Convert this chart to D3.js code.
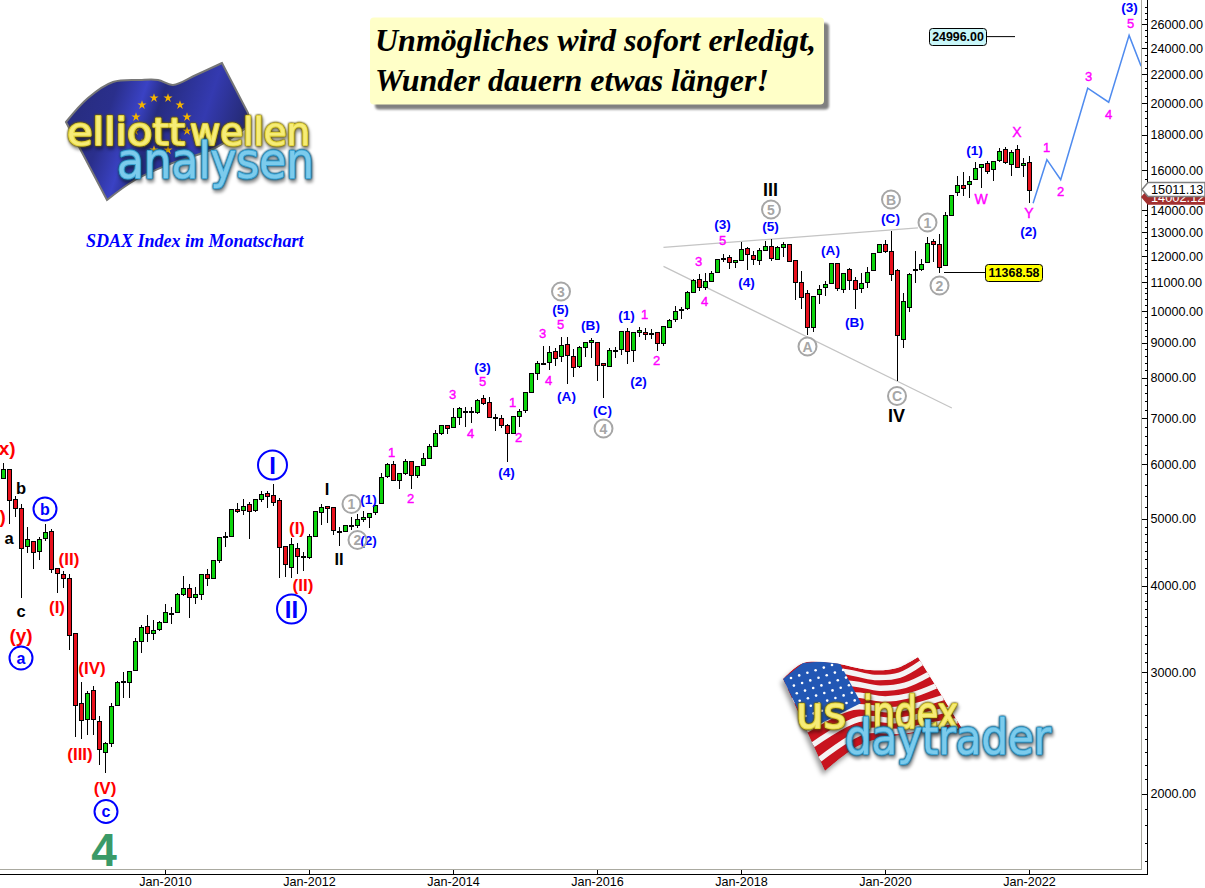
<!DOCTYPE html>
<html>
<head>
<meta charset="utf-8">
<title>SDAX Index im Monatschart</title>
<script src="https://cdnjs.cloudflare.com/ajax/libs/d3/7.8.5/d3.min.js"></script>
<style>
  html, body { margin: 0; padding: 0; background: #fff; overflow: hidden; }
  text { font-family: "Liberation Sans", Arial, sans-serif; }
  .axis text { font-size: 12.6px; fill: #000; }
  .axis line, .axis path { stroke: #000; shape-rendering: crispEdges; }
  .wick { stroke: #000; shape-rendering: crispEdges; }
  .body { stroke: #000; shape-rendering: crispEdges; }
</style>
</head>
<body>
<div class="chart"></div>
<script>
// monthly candles, first one is Oct-2007, months counted from Jan-2010
var firstMonth = -27;

var opens = [
  5737,5912,5349,5191,4567,4645,4497,4696,4808,4248,
  4167,4110,3421,2709,2568,2828,2550,2300,2371,2691,
  2905,2905,3024,3333,3500,3421,3467,3550,3645,3669,
  3896,3975,3858,3896,4155,4110,4364,4711,4727,5174,
  5156,5254,5156,5349,5458,5421,5331,4572,4262,4542,
  4408,4408,4727,5122,5225,5208,4792,4808,4887,4903,
  5003,5037,5122,5278,5775,6010,5699,5833,6071,5794,
  5990,6132,6384,6665,6848,6800,7030,7150,7150,7150,
  7490,7394,7008,7008,6848,6665,7053,7197,7644,8130,
  8390,8447,8762,8615,8965,8615,8334,8877,9028,9028,
  8420,8334,8762,8820,9365,8790,9334,9335,9272,9335,
  9000,9490,9749,10046,10113,10654,11115,10847,11066,11403,
  11908,11988,11790,11868,12354,12067,11868,12270,12438,11908,
  12395,12480,11868,11030,10630,9490,10595,10847,10960,11748,
  10775,11517,11102,10810,11030,11478,12190,12520,12230,11478,
  9120,10147,11478,11517,11790,12645,12520,11670,13790,14845,
  15240,15290,15500,16185,16350,16075,16565,17130,16300,17130,
  16240,16455
];
var highs = [
  6031,5912,5397,5268,4872,4660,4711,4924,4845,4248,
  4217,4167,3421,2908,2819,2870,2596,2384,2709,2915,
  3007,3017,3365,3512,3637,3577,3561,3773,3731,3909,
  4136,4032,3998,4167,4235,4364,4722,4797,5174,5278,
  5349,5301,5355,5494,5494,5631,5367,4572,4696,4618,
  4487,4762,5139,5260,5231,5219,4872,4909,5037,5094,
  5145,5105,5242,5833,6030,6071,5833,6118,6071,5970,
  6235,6426,6732,6848,6848,7245,7270,7270,7270,7465,
  7565,7514,7100,7077,6863,7053,7221,7644,8130,8475,
  8906,8906,8850,9180,9180,8820,8906,9028,9150,9028,
  8420,8850,8877,9375,9460,9334,9492,9460,9429,9335,
  9532,9749,10193,10147,10690,11140,11340,11365,11428,11922,
  12120,12080,11882,12603,12395,12245,12354,12645,12730,12438,
  12603,12520,11882,11428,10739,10540,10925,11066,11748,11748,
  11365,11555,11215,11365,11580,12150,12535,12673,13070,11517,
  10630,11365,12230,11908,12815,12730,12955,13950,14755,15690,
  15900,15690,16455,16350,16510,16510,17260,17320,17110,17420,
  16680,16810
];
var lows = [
  5737,4926,5048,3853,4477,4235,4369,4660,4189,3918,
  3983,3236,2424,2407,2440,2440,2207,2150,2344,2691,
  2757,2757,3024,3207,3325,3346,3452,3550,3530,3657,
  3875,3601,3777,3823,4007,4098,4330,4567,4722,5105,
  5066,4690,5122,5301,5197,5237,4110,4132,4110,4164,
  4212,4379,4727,4900,4942,4750,4582,4792,4829,4856,
  4954,4866,5077,5278,5737,5699,5542,5794,5542,5737,
  5990,6132,6384,6620,6642,6800,6848,6800,6884,7100,
  7320,7030,6711,6778,6064,6665,6800,7125,7644,7945,
  8390,8215,8325,8438,7843,8050,8279,8585,8557,7920,
  7490,8307,8557,8643,8380,8438,9180,9100,9120,8772,
  8900,9460,9640,9749,10035,10630,10690,10727,11066,11365,
  11775,11517,11568,11815,11476,11660,11660,12270,11815,11855,
  11988,11828,10375,10080,9235,9325,10260,10540,10960,10690,
  10630,10751,10080,10630,10810,11440,12190,12150,11053,7920,
  8840,9967,10995,11440,11748,11790,11365,11620,13790,14680,
  14680,14610,15500,15090,15810,15465,16455,16330,15725,16130,
  15655,14340
];
var closes = [
  5912,5325,5191,4542,4680,4477,4680,4792,4235,4180,
  4110,3398,2691,2559,2800,2568,2323,2371,2682,2905,
  2912,3014,3333,3489,3421,3455,3550,3669,3657,3896,
  3975,3858,3896,4155,4110,4364,4711,4727,5174,5139,
  5225,5139,5349,5439,5403,5295,4557,4306,4602,4423,
  4423,4727,5139,5208,5191,4824,4808,4898,4903,5003,
  5037,5105,5242,5756,6010,5699,5833,6071,5794,5970,
  6132,6384,6665,6848,6778,7030,7245,7173,7173,7441,
  7370,7030,7030,6848,6665,7053,7173,7644,8130,8420,
  8420,8732,8557,8935,8643,8307,8877,9028,9090,8362,
  8362,8790,8790,9365,8762,9334,9397,9272,9303,9000,
  9500,9716,10012,10080,10666,11090,10847,11066,11365,11908,
  11948,11790,11868,12312,12107,11908,12270,12438,11948,12395,
  12520,11828,11030,10490,9490,10527,10775,10925,11748,10810,
  11365,11102,10775,10995,11403,12150,12480,12217,11327,9245,
  10350,11327,11517,11712,12562,12480,11593,13760,14740,15195,
  15090,15445,16130,16300,15970,16510,17070,16455,17015,16185,
  16400,14990
];

var forecastMonths = [144.6, 146.9, 149.2, 153.7, 157.2, 160.6, 162.6];
var forecastValues = [14340, 16585, 15515, 21046, 20085, 25100, 22650];

var upperLineMonths = [83, 125.4];
var upperLineValues = [12384, 13210];
var lowerLineMonths = [83, 131.06];
var lowerLineValues = [11622, 7247];

var timeTickMonths = [0, 24, 48, 72, 96, 120, 144];
var timeTickLabels = ["Jan-2010", "Jan-2012", "Jan-2014", "Jan-2016", "Jan-2018", "Jan-2020", "Jan-2022"];
var priceTicks = [2000, 3000, 4000, 5000, 6000, 7000, 8000, 9000, 10000, 11000, 12000, 13000, 14000, 16000, 18000, 20000, 22000, 24000, 26000];

var targetPrice = 24996;
var supportPrice = 11368.58;
var supportMonth = 129.83;
var lastPrice = "15011.13";
var otherPrice = "14002.12";

var svg = d3.select(".chart")
  .append("svg")
  .attr("width", 1205)
  .attr("height", 888)
  .style("display", "block");

var xScale = d3.scaleLinear().domain([0, 144]).range([165.5, 1029.5]);
var yScale = d3.scaleLog().domain([2000, 26000]).range([794.3, 24.8]);

var defs = svg.append("defs");
defs.append("clipPath").attr("id", "plotClip")
  .append("rect").attr("x", 0).attr("y", 0).attr("width", 1141).attr("height", 869);
var blur = defs.append("filter").attr("id", "soft").attr("x", "-20%").attr("y", "-20%").attr("width", "140%").attr("height", "140%");
blur.append("feGaussianBlur").attr("stdDeviation", 2.5);
var blurSmall = defs.append("filter").attr("id", "softer").attr("x", "-10%").attr("y", "-20%").attr("width", "120%").attr("height", "140%");
blurSmall.append("feGaussianBlur").attr("stdDeviation", 1);

var euGrad = defs.append("linearGradient").attr("id", "euGrad").attr("x1", 0).attr("y1", 0).attr("x2", 1).attr("y2", 0.25);
euGrad.append("stop").attr("offset", "0%").attr("stop-color", "#262b78");
euGrad.append("stop").attr("offset", "30%").attr("stop-color", "#2a2f8c");
euGrad.append("stop").attr("offset", "45%").attr("stop-color", "#3a42c4");
euGrad.append("stop").attr("offset", "55%").attr("stop-color", "#262c80");
euGrad.append("stop").attr("offset", "80%").attr("stop-color", "#343ab0");
euGrad.append("stop").attr("offset", "100%").attr("stop-color", "#262b78");

// ---- logos -----------------------------------------------------------------
var smooth = d3.line().curve(d3.curveCatmullRom.alpha(0.5));

// logo lettering: one text, pale core, coloured tube, dark rim and soft shadow by filter
function tubeText(g, txt, x, y, size, len, colors) {
  g.append("text").attr("x", x).attr("y", y).attr("font-size", size)
    .attr("textLength", len).attr("lengthAdjust", "spacingAndGlyphs")
    .style("font-family", "'DejaVu Sans'")
    .style("paint-order", "stroke")
    .style("filter", "drop-shadow(0 0 0.8px " + colors[0] + ") drop-shadow(0 0 0.5px " + colors[0] + ") drop-shadow(1px 3px 1.5px rgba(0,0,0,0.4))")
    .attr("fill", colors[2])
    .attr("stroke", colors[1]).attr("stroke-width", 2.2)
    .attr("stroke-linejoin", "round")
    .text(txt);
}

var yellowTube = ["#6e5f00", "#e2d33c", "#f6ec78"];
var blueTube = ["#155a7c", "#3ea6d6", "#7ccbec"];

// EU flag logo
var euLogo = svg.append("g").attr("class", "eu-logo");
var euTop = [[66,122],[88,98],[113,82],[140,80],[158,80],[173,85],[196,75],[222,63]];
var euBottom = [[250,125],[215,148],[170,164],[135,180],[107,200]];
var euShape = smooth(euTop) + "L248,113" + smooth(euBottom).replace("M", "L") + "Z";
euLogo.append("path").attr("d", euShape).attr("fill", "url(#euGrad)").attr("stroke", "#777").attr("stroke-width", 2);
var euStars = [[142,105],[154,98],[168,98],[180,105],[187,117],[187,131],[180,143],[136,117],[135,131],[142,143],[154,150],[168,150]];
euLogo.selectAll(".star").data(euStars).enter().append("path")
  .attr("class", "star")
  .attr("d", d3.symbol().type(d3.symbolStar).size(26))
  .attr("transform", function(d) { return "translate(" + d[0] + "," + d[1] + ")"; })
  .attr("fill", "#f4b400");
tubeText(euLogo, "elliott", 67, 145, 37, 118, yellowTube);
tubeText(euLogo, "wellen", 190, 145, 37, 120, yellowTube);
tubeText(euLogo, "analysen", 117, 178, 50, 197, blueTube);

// US flag logo
var usLogo = svg.append("g").attr("class", "us-logo");
var usTop = [[783,679],[803,663],[833,663],[870,670],[897,668],[918,657]];
var usBottom = [[963,730],[900,735],[860,745],[825,771]];
var usShape = smooth(usTop) + smooth(usBottom).replace("M", "L") + "Z";
defs.append("clipPath").attr("id", "usClip").append("path").attr("d", usShape);
usLogo.append("path").attr("d", usShape).attr("fill", "#000").attr("fill-opacity", 0.4)
  .attr("transform", "translate(-2,4)").attr("filter", "url(#soft)");
var usFlag = usLogo.append("g").attr("clip-path", "url(#usClip)");
usFlag.append("path").attr("d", usShape).attr("fill", "#c8141e");
d3.range(1, 13, 2).forEach(function(i) {
  var t = i / 12.6;
  var wave = [
    [783 + 42 * t, 679 + 92 * t],
    [833 + 36 * t, 665 + 76 * t],
    [872 + 34 * t, 672 + 68 * t],
    [897 + 34 * t, 670 + 64 * t],
    [918 + 45 * t, 657 + 73 * t]
  ];
  usFlag.append("path").attr("d", smooth(wave)).attr("fill", "none")
    .attr("stroke", "#f4f4f4").attr("stroke-width", 5.5);
});
usFlag.append("path")
  .attr("d", "M783,679L803,663L838,660L861,703L808,730Z")
  .attr("fill", "#2257b4");
var usStars = [];
d3.range(0, 6).forEach(function(r) {
  d3.range(0, 7).forEach(function(c) {
    usStars.push([791 + c * 8.2 + r * 2.9, 678 + r * 7.6 - c * 2.6]);
  });
});
usFlag.selectAll(".dot").data(usStars).enter().append("circle")
  .attr("class", "dot")
  .attr("cx", function(d) { return d[0]; })
  .attr("cy", function(d) { return d[1]; })
  .attr("r", 1.3).attr("fill", "#fff");
tubeText(usLogo, "us", 796, 728, 44, 50, yellowTube);
tubeText(usLogo, "index", 863, 728, 44, 95, yellowTube);
tubeText(usLogo, "daytrader", 845, 754, 48, 206, blueTube);

// ---- title boxes -------------------------------------------------------------
svg.append("rect").attr("x", 375).attr("y", 23).attr("width", 454).attr("height", 86.5).attr("rx", 4)
  .attr("fill", "#808080").attr("filter", "url(#softer)");
svg.append("rect").attr("x", 370).attr("y", 17.5).attr("width", 454).attr("height", 87).attr("rx", 4)
  .attr("fill", "#ffffc8");
svg.selectAll(".headline").data(["Unmögliches wird sofort erledigt,", "Wunder dauern etwas länger!"]).enter().append("text")
  .attr("class", "headline")
  .attr("x", 375)
  .attr("y", function(d, i) { return 51 + i * 40; })
  .style("font-family", "'Liberation Serif', 'Times New Roman', serif")
  .style("font-size", "32px").style("font-weight", "bold").style("font-style", "italic")
  .attr("fill", "#000")
  .text(function(d) { return d; });
svg.append("text").attr("x", 86).attr("y", 247)
  .style("font-family", "'Liberation Serif', 'Times New Roman', serif")
  .style("font-size", "18px").style("font-weight", "bold").style("font-style", "italic")
  .attr("fill", "#0000ff")
  .text("SDAX Index im Monatschart");

// ---- frame and axes ------------------------------------------------------------
svg.append("path").attr("d", "M0,869.5H1141.5V0").attr("fill", "none").attr("stroke", "#aaa9a0").attr("stroke-width", 1.5).attr("shape-rendering", "crispEdges");
svg.append("path").attr("d", "M0,874.5H1147.5V0").attr("fill", "none").attr("stroke", "#000").attr("shape-rendering", "crispEdges");

var bottomAxis = d3.axisBottom(xScale)
  .tickValues(timeTickMonths)
  .tickFormat(function(d, i) { return timeTickLabels[i]; })
  .tickSizeInner(-5).tickSizeOuter(0).tickPadding(3).offset(0);
svg.append("g").attr("class", "axis").attr("transform", "translate(0,874.5)").call(bottomAxis)
  .select(".domain").remove();

var minorTicks = d3.range(1600, 2000, 100)
  .concat(d3.range(2100, 4000, 100))
  .concat(d3.range(4125, 5000, 125))
  .concat(d3.range(5200, 11000, 200))
  .concat(d3.range(11250, 14000, 250))
  .concat(d3.range(14500, 28000, 500));
var minorAxis = d3.axisRight(yScale)
  .tickValues(minorTicks).tickFormat("").tickSizeInner(-3).tickSizeOuter(0).offset(0);
svg.append("g").attr("class", "axis").attr("transform", "translate(1147.5,0)").call(minorAxis)
  .select(".domain").remove();
var rightAxis = d3.axisRight(yScale)
  .tickValues(priceTicks).tickFormat(d3.format(".2f")).tickSizeInner(-5.5).tickSizeOuter(0).tickPadding(3).offset(0);
svg.append("g").attr("class", "axis").attr("transform", "translate(1147.5,0)").call(rightAxis)
  .select(".domain").remove();

// ---- trend lines ----------------------------------------------------------------
[[upperLineMonths, upperLineValues], [lowerLineMonths, lowerLineValues]].forEach(function(l) {
  svg.append("line")
    .attr("x1", xScale(l[0][0])).attr("y1", yScale(l[1][0]))
    .attr("x2", xScale(l[0][1])).attr("y2", yScale(l[1][1]))
    .attr("stroke", "#c4c4c4").attr("stroke-width", 1.2);
});

// ---- candles ---------------------------------------------------------------------
var candles = opens.map(function(o, i) {
  return { month: firstMonth + i, open: o, high: highs[i], low: lows[i], close: closes[i] };
});
var chart = svg.append("g").attr("class", "candles");
chart.selectAll(".wick").data(candles).enter().append("line")
  .attr("class", "wick")
  .attr("x1", function(d) { return xScale(d.month); })
  .attr("x2", function(d) { return xScale(d.month); })
  .attr("y1", function(d) { return yScale(d.high); })
  .attr("y2", function(d) { return yScale(d.low); });
chart.selectAll(".body").data(candles).enter().append("rect")
  .attr("class", "body")
  .attr("x", function(d) { return xScale(d.month) - 2; })
  .attr("width", 4)
  .attr("y", function(d) { return yScale(Math.max(d.open, d.close)); })
  .attr("height", function(d) { return Math.max(yScale(Math.min(d.open, d.close)) - yScale(Math.max(d.open, d.close)), 0.5); })
  .attr("fill", function(d) { return d.close >= d.open ? "#0cd40c" : "#e8101c"; });

// ---- forecast path -----------------------------------------------------------------
var forecast = forecastMonths.map(function(m, i) { return [m, forecastValues[i]]; });
svg.append("path")
  .attr("clip-path", "url(#plotClip)")
  .attr("d", d3.line().x(function(d) { return xScale(d[0]); }).y(function(d) { return yScale(d[1]); })(forecast))
  .attr("fill", "none").attr("stroke", "#4f8bef").attr("stroke-width", 1.5);

// ---- price labels ------------------------------------------------------------------
function priceBox(txt, x, y, w, h, fill) {
  svg.append("rect").attr("x", x).attr("y", y).attr("width", w).attr("height", h).attr("rx", 3)
    .attr("fill", fill).attr("stroke", "#000").attr("stroke-width", 1);
  svg.append("text").attr("x", x + w / 2).attr("y", y + h / 2).attr("dy", "0.35em")
    .attr("text-anchor", "middle").style("font-size", "12.4px").style("font-weight", "bold")
    .text(txt);
}
svg.append("path")
  .attr("d", "M987," + yScale(targetPrice) + "H1015")
  .attr("stroke", "#000").attr("fill", "none");
priceBox(d3.format(".2f")(targetPrice), 929.5, 28.5, 57, 17, "#c8f6f8");
svg.append("path")
  .attr("d", "M" + xScale(supportMonth) + "," + yScale(supportPrice) + "H985")
  .attr("stroke", "#000").attr("fill", "none").attr("shape-rendering", "crispEdges");
priceBox(d3.format(".2f")(supportPrice), 985.5, 264.5, 57, 17, "#ffff00");

// right side tags
function priceTag(txt, cy, fill, stroke, color) {
  svg.append("path")
    .attr("d", "M1142," + cy + "L1148," + (cy - 7) + "H1205V" + (cy + 7) + "H1148Z")
    .attr("fill", fill).attr("stroke", stroke).attr("stroke-width", 1.5);
  svg.append("text").attr("x", 1151).attr("y", cy).attr("dy", "0.37em")
    .style("font-size", "12.8px").attr("fill", color).text(txt);
}
priceTag(otherPrice, 197, "#a23030", "#a23030", "#fff");
priceTag(lastPrice, 189.5, "#fff", "#808080", "#000");

// ---- wave labels --------------------------------------------------------------------
var styles = {
  red: { fill: "#ff0000", size: 17, weight: "bold" },
  redBig: { fill: "#ff0000", size: 19, weight: "bold" },
  blue: { fill: "#0000ff", size: 13.6, weight: "bold" },
  pink: { fill: "#ff00ff", size: 13, weight: "normal" },
  pinkBig: { fill: "#ff00ff", size: 14, weight: "normal" },
  black: { fill: "#000", size: 16.5, weight: "bold" },
  blackBig: { fill: "#000", size: 18, weight: "bold" }
};
var waveLabels = [
  ["(x)", 4, 448, "redBig"], ["(w)", -8, 516, "redBig"], ["(y)", 21, 635, "redBig"],
  ["(II)", 69, 559, "red"], ["(I)", 57, 607, "red"], ["(IV)", 92, 668, "red"], ["(III)", 80, 754, "red"],
  ["(V)", 105, 788, "red"], ["(I)", 297, 528, "red"], ["(II)", 303, 585, "red"],
  ["b", 21, 488, "black"], ["a", 9, 538, "black"], ["c", 21, 611, "black"],
  ["I", 327, 489, "black"], ["II", 339, 559, "black"], ["III", 770.5, 189.5, "blackBig"], ["IV", 896.5, 415.5, "blackBig"],
  ["(1)", 368.5, 499, "blue"], ["(2)", 368.5, 540, "blue"], ["(3)", 482.5, 367, "blue"], ["(4)", 506.5, 472.5, "blue"],
  ["(5)", 560.5, 309, "blue"], ["(A)", 566.5, 396.5, "blue"], ["(B)", 590.5, 325, "blue"], ["(C)", 602.5, 410.5, "blue"],
  ["(1)", 626.5, 315, "blue"], ["(2)", 638.5, 381.5, "blue"], ["(3)", 722.5, 224.5, "blue"], ["(4)", 746.5, 282.5, "blue"],
  ["(5)", 770.5, 226.5, "blue"], ["(A)", 830.5, 250, "blue"], ["(B)", 854.5, 322.5, "blue"], ["(C)", 890.5, 218, "blue"],
  ["(1)", 974.5, 150, "blue"], ["(2)", 1028.5, 231, "blue"], ["(3)", 1129.5, 7.5, "blue"],
  ["1", 391.5, 452.5, "pink"], ["2", 410.5, 498.5, "pink"], ["3", 452.5, 394.5, "pink"], ["4", 470.5, 433.5, "pink"],
  ["5", 482.5, 381.5, "pink"], ["1", 512.5, 402.5, "pink"], ["2", 518.5, 437.5, "pink"], ["3", 542.5, 333.5, "pink"],
  ["4", 548.5, 380.5, "pink"], ["5", 560.5, 324, "pink"], ["1", 644.5, 314.5, "pink"], ["2", 656.5, 360, "pink"],
  ["3", 698.5, 261, "pink"], ["4", 704.5, 301.5, "pink"], ["5", 722.5, 240, "pink"],
  ["W", 981, 198.5, "pinkBig"], ["X", 1017, 131.5, "pinkBig"], ["Y", 1029, 212.5, "pinkBig"],
  ["1", 1046.5, 147, "pink"], ["2", 1060.5, 191, "pink"], ["3", 1088.5, 76, "pink"], ["4", 1108.5, 114.5, "pink"], ["5", 1130.5, 23.5, "pink"]
];
svg.selectAll(".wave").data(waveLabels).enter().append("text")
  .attr("class", "wave")
  .attr("x", function(d) { return d[1]; })
  .attr("y", function(d) { return d[2]; })
  .attr("dy", "0.36em")
  .attr("text-anchor", "middle")
  .style("font-weight", function(d) { return styles[d[3]].weight; })
  .style("font-size", function(d) { return styles[d[3]].size + "px"; })
  .attr("fill", function(d) { return styles[d[3]].fill; })
  .attr("stroke", function(d) { return styles[d[3]].fill; })
  .attr("stroke-width", function(d) { return styles[d[3]].weight == "normal" ? 0.4 : 0; })
  .text(function(d) { return d[0]; });

svg.append("text").attr("x", 104).attr("y", 865.5).attr("text-anchor", "middle")
  .style("font-size", "46px").style("font-weight", "bold").attr("fill", "#3a9a68").text("4");

// circled labels: text, x, y, radius, font size, colour
var circledLabels = [
  ["b", 45, 509, 11.5, 16, "#0000ff"], ["a", 21, 658, 11.5, 16, "#0000ff"], ["c", 106, 811.5, 11.5, 16, "#0000ff"],
  ["I", 272.5, 465, 14.5, 24, "#0000ff"], ["II", 291.5, 609, 14.5, 24, "#0000ff"],
  ["1", 351.5, 504, 9, 14, "#a6a6a6"], ["2", 357.5, 540, 9, 14, "#a6a6a6"], ["3", 561, 291.5, 9, 14, "#a6a6a6"],
  ["4", 603.5, 428.5, 9, 14, "#a6a6a6"], ["5", 771, 209.5, 9, 14, "#a6a6a6"], ["A", 807.5, 346.5, 9, 14, "#a6a6a6"],
  ["B", 891, 199.5, 9, 14, "#a6a6a6"], ["1", 927.5, 222.5, 9, 14, "#a6a6a6"], ["2", 939.5, 285.5, 9, 14, "#a6a6a6"],
  ["C", 897, 396, 9, 14, "#a6a6a6"]
];
var circled = svg.selectAll(".circled").data(circledLabels).enter().append("g").attr("class", "circled");
circled.append("circle")
  .attr("cx", function(d) { return d[1]; })
  .attr("cy", function(d) { return d[2]; })
  .attr("r", function(d) { return d[3]; })
  .attr("fill", "none")
  .attr("stroke", function(d) { return d[5]; })
  .attr("stroke-width", 2);
circled.append("text")
  .attr("x", function(d) { return d[1]; })
  .attr("y", function(d) { return d[2]; })
  .attr("dy", "0.36em")
  .attr("text-anchor", "middle")
  .style("font-weight", "bold")
  .style("font-size", function(d) { return d[4] + "px"; })
  .attr("fill", function(d) { return d[5]; })
  .text(function(d) { return d[0]; });
</script>
</body>
</html>
